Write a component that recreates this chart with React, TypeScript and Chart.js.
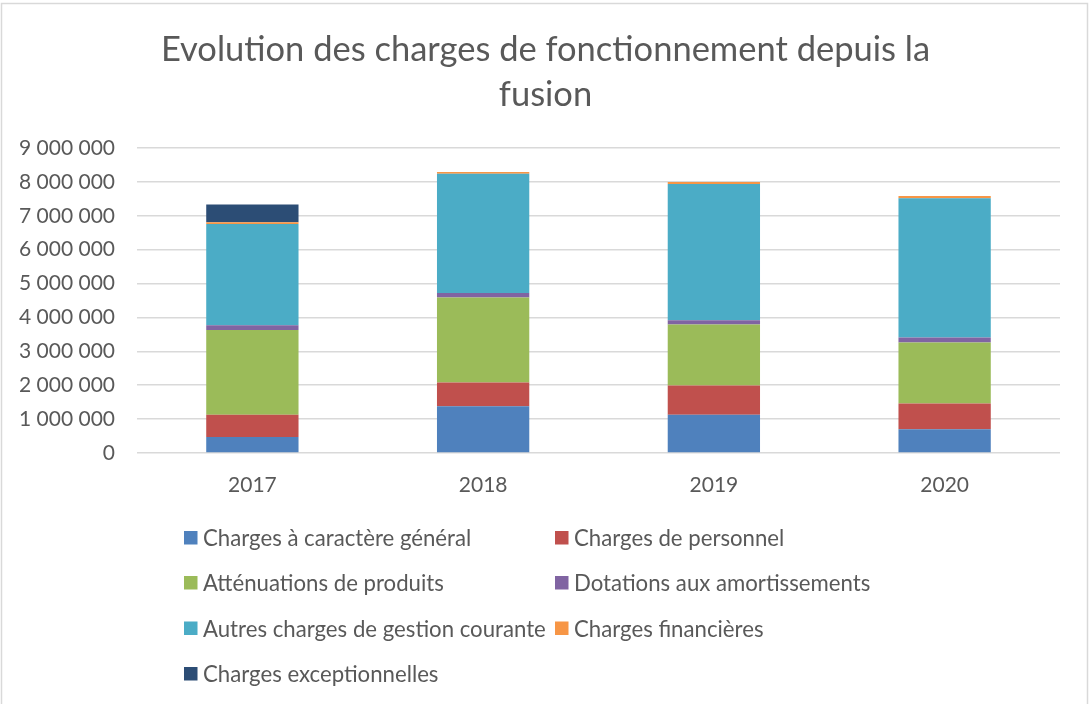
import React, { useEffect, useRef } from 'react';
import { Chart, registerables } from 'chart.js';

Chart.register(...registerables);

const years = ['2017', '2018', '2019', '2020'];
const chargesGenerales = [470000, 1380000, 1130000, 700000];
const chargesPersonnel = [660000, 700000, 860000, 760000];
const attenuations = [2500000, 2510000, 1800000, 1800000];
const dotations = [140000, 130000, 130000, 150000];
const autresCharges = [2990000, 3520000, 4020000, 4110000];
const chargesFinancieres = [50000, 50000, 60000, 60000];
const chargesExceptionnelles = [520000, 0, 0, 0];

const seriesNames = [
  'Charges à caractère général',
  'Charges de personnel',
  'Atténuations de produits',
  'Dotations aux amortissements',
  'Autres charges de gestion courante',
  'Charges financières',
  'Charges exceptionnelles',
];
const seriesValues = [
  chargesGenerales,
  chargesPersonnel,
  attenuations,
  dotations,
  autresCharges,
  chargesFinancieres,
  chargesExceptionnelles,
];
const seriesColors = ['#4F81BD', '#C0504D', '#9BBB59', '#8064A2', '#4BACC6', '#F79646', '#2C4D75'];

const titleLines = ['Evolution des charges de fonctionnement depuis la', 'fusion'];

const FONT = 'Lato';
const TEXT = '#595959';

const frameAndLegend = {
  id: 'frameAndLegend',
  afterDraw(chart: any) {
    const ctx = chart.ctx;
    ctx.save();
    ctx.strokeStyle = '#d9d9d9';
    ctx.lineWidth = 1.5;
    ctx.strokeRect(1.5, 3.5, 1086, 1000);
    const colX = [184, 555];
    const rowY = [538, 583, 628.5, 674];
    ctx.font = `22.2px ${FONT}`;
    ctx.textBaseline = 'middle';
    ctx.textAlign = 'left';
    chart.data.datasets.forEach((ds: any, i: number) => {
      const x = colX[i % 2];
      const y = rowY[Math.floor(i / 2)];
      ctx.fillStyle = ds.backgroundColor;
      ctx.fillRect(x, y - 7, 13.5, 13.5);
      ctx.fillStyle = TEXT;
      ctx.fillText(ds.label, x + 19, y + 1);
    });
    ctx.restore();
  },
};

export default function App() {
  const ref = useRef<HTMLCanvasElement>(null);
  useEffect(() => {
    if (!ref.current) return;
    const chart = new Chart(ref.current, {
      type: 'bar',
      data: {
        labels: years,
        datasets: seriesNames.map((name, i) => ({
          label: name,
          data: seriesValues[i],
          backgroundColor: seriesColors[i],
          borderWidth: 0,
          barPercentage: 0.4,
          categoryPercentage: 1,
        })),
      },
      options: {
        animation: false,
        responsive: false,
        devicePixelRatio: 1,
        layout: { padding: { left: 0, right: 0, top: 0, bottom: 206 } },
        plugins: {
          legend: { display: false },
          tooltip: { enabled: false },
          title: {
            display: true,
            text: titleLines,
            color: TEXT,
            font: { family: FONT, size: 34.5, weight: 'normal', lineHeight: 45 / 34.5 },
            padding: { top: 27.5, bottom: 30.5 },
          },
        },
        scales: {
          x: {
            stacked: true,
            grid: { display: false, drawTicks: false },
            border: { display: false },
            ticks: { color: TEXT, font: { family: FONT, size: 21 }, padding: 20 },
            afterFit: (s: any) => { s.height = 45; },
          },
          y: {
            stacked: true,
            min: 0,
            max: 9000000,
            grid: { color: '#d9d9d9', lineWidth: 1.5, drawTicks: false },
            border: { display: false },
            ticks: {
              stepSize: 1000000,
              color: TEXT,
              font: { family: FONT, size: 21 },
              padding: 22,
              callback: (v: any) => String(v).replace(/\B(?=(\d{3})+(?!\d))/g, ' '),
            },
            afterFit: (s: any) => { s.width = 137; },
          },
          yRight: {
            position: 'right',
            display: true,
            grid: { display: false, drawTicks: false },
            border: { display: false },
            ticks: { display: false },
            afterFit: (s: any) => { s.width = 31; },
          },
        },
      },
      plugins: [frameAndLegend],
    });
    return () => chart.destroy();
  }, []);
  return (
    <div style={{ position: 'absolute', left: 0, top: 0, width: 1091, height: 704, background: '#fff', overflow: 'hidden' }}>
      <canvas ref={ref} width={1091} height={704} style={{ display: 'block' }} />
    </div>
  );
}
